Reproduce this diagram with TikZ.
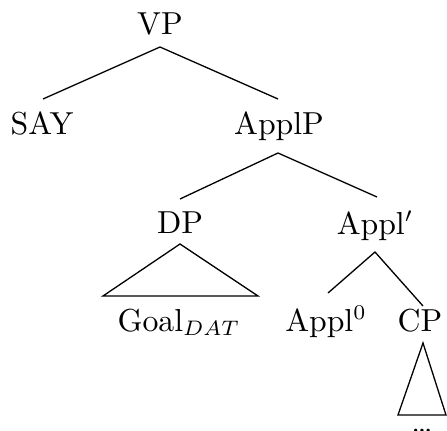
\documentclass[tikz,border=0pt]{standalone}
\usetikzlibrary{calc}
\begin{document}
\begin{tikzpicture}[x=0.333333pt,y=-0.333333pt,scale=3,
  lbl/.style={anchor=base,inner sep=0pt,outer sep=0pt,transform shape,
    font=\fontsize{10.6}{13}\selectfont},
  branch/.style={line width=1.3pt,line join=miter}]
\useasboundingbox (0,0) rectangle (447,430);

% labels (placed by their baselines)
\node[lbl] (vp)      at (160,34)  {VP};
\node[lbl] (say)     at (42,134)  {SAY};
\node[lbl] (applp)   at (279,134) {ApplP};
\node[lbl] (dp)      at (180,233) {DP};
\node[lbl] (applbar) at (375,234) {Appl$'$};
\node[lbl] (goal)    at (179,331) {Goal$_{DAT}$};
\node[lbl] (appl0)   at (326,331) {Appl$^0$};
\node[lbl] (cp)      at (420,331) {CP};
\node[lbl] (dots)    at (422,432) {\dots};

% branches
\draw[branch] ($(say.base)+(1,-35)$) -- ($(vp.base)+(0,13)$)
  -- ($(applp.base)+(-1,-35)$);
\draw[branch] ($(dp.base)+(0,-34)$) -- ($(applp.base)+(-1,19)$)
  -- ($(applbar.base)+(2,-37)$);
\draw[branch] ($(appl0.base)+(2,-38)$) -- ($(applbar.base)+(0,18)$)
  -- ($(cp.base)+(3,-25)$);

% triangles over collapsed material
\coordinate (dpL) at (103,296);
\coordinate (dpR) at (258,296);
\draw[branch] ($(dp.base)+(0,11)$) -- (dpL) -- (dpR) -- cycle;
\coordinate (cpL) at (398,415);
\coordinate (cpR) at (446,415);
\draw[branch] ($(cp.base)+(3,12)$) -- (cpL) -- (cpR) -- cycle;
\end{tikzpicture}
\end{document}
